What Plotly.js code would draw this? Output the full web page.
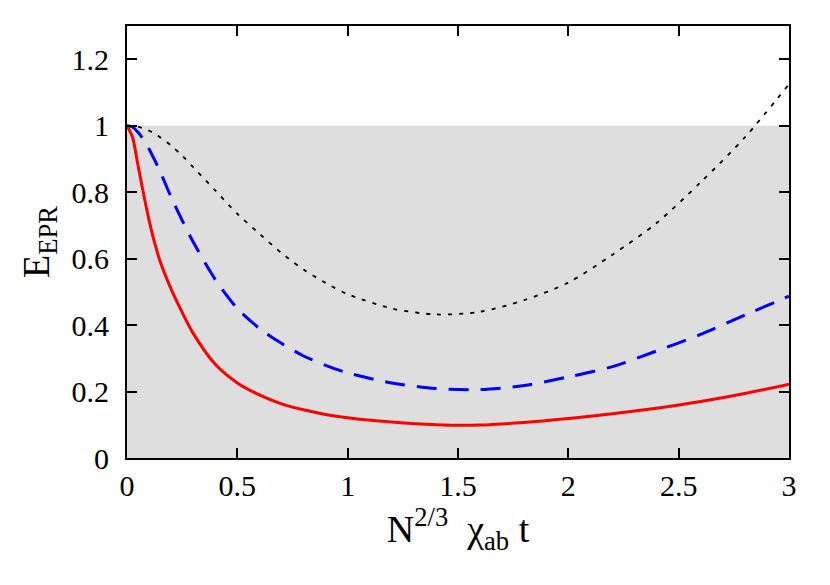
<!DOCTYPE html>
<html>
<head>
<meta charset="utf-8">
<script src="https://cdn.plot.ly/plotly-3.0.1.min.js"></script>
<style>body{margin:0;background:#fff;} #plot{width:830px;height:585px;}</style>
</head>
<body>
<div id="plot"></div>
<script>
var t = [0, 0.025, 0.05, 0.075, 0.1, 0.125, 0.15, 0.2, 0.25, 0.3, 0.4, 0.5, 0.6, 0.7, 0.8, 0.9, 1.0, 1.2, 1.4, 1.6, 1.8, 2.0, 2.2, 2.4, 2.6, 2.8, 3.0];
var eRed = [1, 0.965, 0.88, 0.795, 0.715, 0.648, 0.592, 0.508, 0.438, 0.375, 0.282, 0.226, 0.19, 0.163, 0.145, 0.131, 0.121, 0.108, 0.1, 0.099, 0.107, 0.119, 0.133, 0.15, 0.17, 0.194, 0.222];
var eBlue = [1, 0.996, 0.98, 0.958, 0.93, 0.897, 0.862, 0.785, 0.715, 0.65, 0.537, 0.45, 0.39, 0.345, 0.307, 0.279, 0.256, 0.226, 0.209, 0.206, 0.218, 0.244, 0.275, 0.322, 0.372, 0.43, 0.487];
var eBlack = [1, 0.999, 0.997, 0.992, 0.985, 0.976, 0.965, 0.94, 0.91, 0.875, 0.805, 0.735, 0.675, 0.617, 0.567, 0.527, 0.493, 0.45, 0.432, 0.44, 0.475, 0.528, 0.612, 0.707, 0.83, 0.965, 1.125];
var shadeX = [0, 3];
var shadeY = [1, 1];
var xTicks = [0, 0.5, 1, 1.5, 2, 2.5, 3];
var xTickText = ['0', '0.5', '1', '1.5', '2', '2.5', '3'];
var yTicks = [0, 0.2, 0.4, 0.6, 0.8, 1, 1.2];
var yTickText = ['0', '0.2', '0.4', '0.6', '0.8', '1', '1.2'];

var serif = 'Liberation Serif';

var shade = {
  x: shadeX, y: shadeY, type: 'scatter', mode: 'lines',
  fill: 'tozeroy', fillcolor: '#dedede', line: {width: 0}, hoverinfo: 'skip'
};
var red = {
  x: t, y: eRed, type: 'scatter', mode: 'lines',
  line: {color: '#ff0000', width: 3, shape: 'spline', smoothing: 0.8}
};
var blue = {
  x: t, y: eBlue, type: 'scatter', mode: 'lines',
  line: {color: '#0000ff', width: 3, dash: '20px,12px', shape: 'spline', smoothing: 0.8}
};
var black = {
  x: t, y: eBlack, type: 'scatter', mode: 'lines',
  line: {color: '#000000', width: 1.8, dash: '4px,7px', shape: 'spline', smoothing: 0.8}
};

var layout = {
  width: 830, height: 585,
  margin: {l: 127, r: 41, t: 26, b: 127},
  showlegend: false,
  paper_bgcolor: '#fff', plot_bgcolor: '#fff',
  font: {family: serif, size: 30, color: '#000'},
  xaxis: {
    showline: true, mirror: 'ticks', linecolor: '#000', linewidth: 2,
    ticks: 'inside', ticklen: 10, tickwidth: 2, tickcolor: '#000',
    showgrid: false, zeroline: false,
    tickmode: 'array', tickvals: xTicks, ticktext: xTickText,
    tickfont: {family: serif, size: 30, color: '#000'},
    range: [0, 3], ticklabelstandoff: 0,
    title: {text: 'N<sup>2/3</sup>\u00a0 χ<sub>ab</sub> t', font: {family: serif, size: 38, color: '#000'}, standoff: 8}
  },
  yaxis: {
    showline: true, mirror: 'ticks', linecolor: '#000', linewidth: 2,
    ticks: 'inside', ticklen: 10, tickwidth: 2, tickcolor: '#000',
    showgrid: false, zeroline: false,
    tickmode: 'array', tickvals: yTicks, ticktext: yTickText,
    tickfont: {family: serif, size: 30, color: '#000'},
    range: [0, 1.3], ticklabelstandoff: 10,
    title: {text: 'E<sub>EPR</sub>', font: {family: serif, size: 38, color: '#000'}, standoff: 10}
  }
};

Plotly.newPlot('plot', [shade, black, blue, red], layout, {displayModeBar: false, staticPlot: true});
</script>
</body>
</html>
